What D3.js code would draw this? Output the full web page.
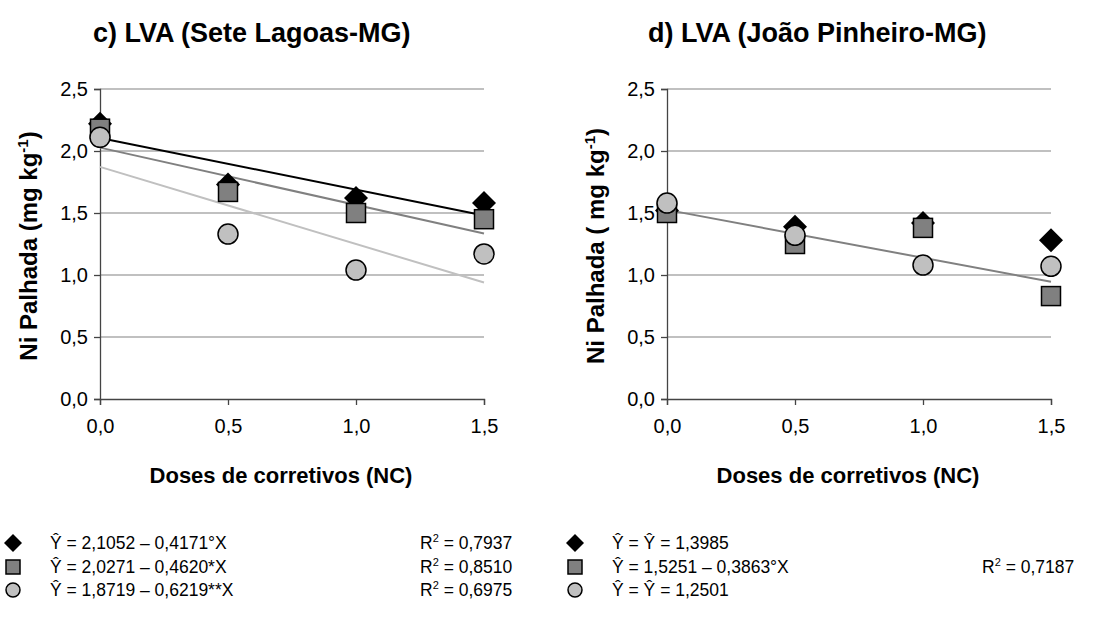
<!DOCTYPE html>
<html><head><meta charset="utf-8">
<script src="https://cdn.jsdelivr.net/npm/d3@7"></script>
<style>body{margin:0;background:#fff}svg{display:block}text{font-family:Arial,"Liberation Sans",sans-serif}</style>
</head><body><svg id="c" width="1105" height="623"></svg>
<script>
const doses = [0, 0.5, 1.0, 1.5];
const xTicks = [0, 0.5, 1.0, 1.5];
const yTicks = [0, 0.5, 1.0, 1.5, 2.0, 2.5];
const titles = ["c) LVA (Sete Lagoas-MG)", "d) LVA (João Pinheiro-MG)"];
const yTitles = ["Ni Palhada (mg kg", "Ni Palhada ( mg kg"];
const xTitle = "Doses de corretivos (NC)";
// observed values
const leftDiamond = [2.22, 1.73, 1.62, 1.58];
const leftSquare  = [2.18, 1.67, 1.50, 1.45];
const leftCircle  = [2.11, 1.33, 1.04, 1.17];
const rightDiamond = [1.52, 1.39, 1.42, 1.28];
const rightSquare  = [1.50, 1.25, 1.38, 0.83];
const rightCircle  = [1.58, 1.32, 1.08, 1.07];
// fitted equations
const leftIntercepts = [2.1052, 2.0271, 1.8719];
const leftSlopes = [-0.4171, -0.4620, -0.6219];
const rightIntercepts = [null, 1.5251, null];
const rightSlopes = [null, -0.3863, null];
const leftEq = ["= 2,1052 – 0,4171°X", "= 2,0271 – 0,4620*X", "= 1,8719 – 0,6219**X"];
const leftR2 = ["= 0,7937", "= 0,8510", "= 0,6975"];
const rightEq = ["= Ŷ = 1,3985", "= 1,5251 – 0,3863°X", "= Ŷ = 1,2501"];
const rightR2 = [null, "= 0,7187", null];

const fills = ["#000000", "#808080", "#c0c0c0"];
const lineCols = ["#000000", "#808080", "#c0c0c0"];
const svg = d3.select("#c");
const fmt = v => d3.format(".1f")(v).replace(".", ",");

function marker(g, type, x, y, s) {
  if (type === 1) {
    g.append("rect").attr("x", x - s/2).attr("y", y - s/2).attr("width", s).attr("height", s)
     .attr("fill", fills[1]).attr("stroke", "#000").attr("stroke-width", 1.5);
  } else {
    g.append("circle").attr("cx", x).attr("cy", y).attr("r", s/2)
     .attr("fill", fills[2]).attr("stroke", "#000").attr("stroke-width", 1.5);
  }
}
function diamond(g, x, y, h) {
  g.append("path").attr("d", `M${x},${y-h}L${x+h},${y}L${x},${y+h}L${x-h},${y}Z`)
   .attr("fill", "#000");
}

function panel(ox, idx, series, intercepts, slopes, titleX) {
  const x = d3.scaleLinear().domain([0, 1.5]).range([ox, ox + 384]);
  const y = d3.scaleLinear().domain([0, 2.5]).range([399, 89]);
  const g = svg.append("g");
  g.selectAll(".grid").data(yTicks.slice(1)).join("line")
    .attr("x1", x(0)).attr("x2", x(1.5)).attr("y1", d => y(d)).attr("y2", d => y(d))
    .attr("stroke", "#c0c0c0").attr("stroke-width", 2);
  const ya = g.append("g").attr("transform", `translate(${x(0)},0)`)
    .call(d3.axisLeft(y).tickValues(yTicks).tickFormat(fmt).tickSize(6).tickPadding(6));
  const xa = g.append("g").attr("transform", `translate(0,${y(0)})`)
    .call(d3.axisBottom(x).tickValues(xTicks).tickFormat(fmt).tickSize(6).tickPadding(14));
  [ya, xa].forEach(a => {
    a.select(".domain").attr("stroke", "#444").attr("stroke-width", 1.3);
    a.selectAll(".tick line").attr("stroke", "#444").attr("stroke-width", 1.3);
    a.selectAll("text").attr("font-size", 20).attr("fill", "#000").style("font-family", "Arial, Liberation Sans, sans-serif");
  });
  // regression lines
  intercepts.forEach((b, i) => {
    if (b === null) return;
    g.append("line").attr("x1", x(0)).attr("x2", x(1.5))
      .attr("y1", y(b)).attr("y2", y(b + slopes[i] * 1.5))
      .attr("stroke", lineCols[i]).attr("stroke-width", 2);
  });
  // markers
  series.forEach((vals, i) => {
    vals.forEach((v, j) => {
      if (i === 0) diamond(g, x(doses[j]), y(v), 12);
      else marker(g, i, x(doses[j]), y(v), i === 1 ? 19 : 20);
    });
  });
  // titles
  svg.append("text").attr("x", titleX).attr("y", 42).attr("font-size", 27).attr("font-weight", "bold").text(titles[idx]);
  const yt = svg.append("text").attr("transform", `translate(${ox - 63},${(89+399)/2 + 2}) rotate(-90)`)
    .attr("text-anchor", "middle").attr("font-size", 24).attr("font-weight", "bold");
  yt.append("tspan").text(yTitles[idx]);
  yt.append("tspan").attr("dy", -9).attr("font-size", 15).text("-1");
  yt.append("tspan").attr("dy", 9).text(")");
  svg.append("text").attr("x", ox + 181).attr("y", 483).attr("text-anchor", "middle")
    .attr("font-size", 22).attr("font-weight", "bold").text(xTitle);
}

panel(100, 0, [leftDiamond, leftSquare, leftCircle], leftIntercepts, leftSlopes, 93);
panel(667, 1, [rightDiamond, rightSquare, rightCircle], rightIntercepts, rightSlopes, 648);

function legend(ox, eqs, r2s, r2x) {
  const rows = [543, 567, 590];
  const g = svg.append("g");
  rows.forEach((ry, i) => {
    if (i === 0) diamond(g, ox, ry, 9);
    else if (i === 1) marker(g, 1, ox, ry, 14);
    else marker(g, 2, ox, ry, 14);
    g.append("text").attr("x", ox + 37).attr("y", ry + 6).attr("font-size", 17.5)
      .text("Ŷ " + eqs[i]);
    if (r2s[i]) {
      const t = g.append("text").attr("x", r2x).attr("y", ry + 6).attr("font-size", 17.5);
      t.append("tspan").text("R");
      t.append("tspan").attr("dy", -7).attr("font-size", 11).text("2");
      t.append("tspan").attr("dy", 7).text(" " + r2s[i]);
    }
  });
}
legend(13, leftEq, leftR2, 420);
legend(575, rightEq, rightR2, 982);
</script></body></html>
